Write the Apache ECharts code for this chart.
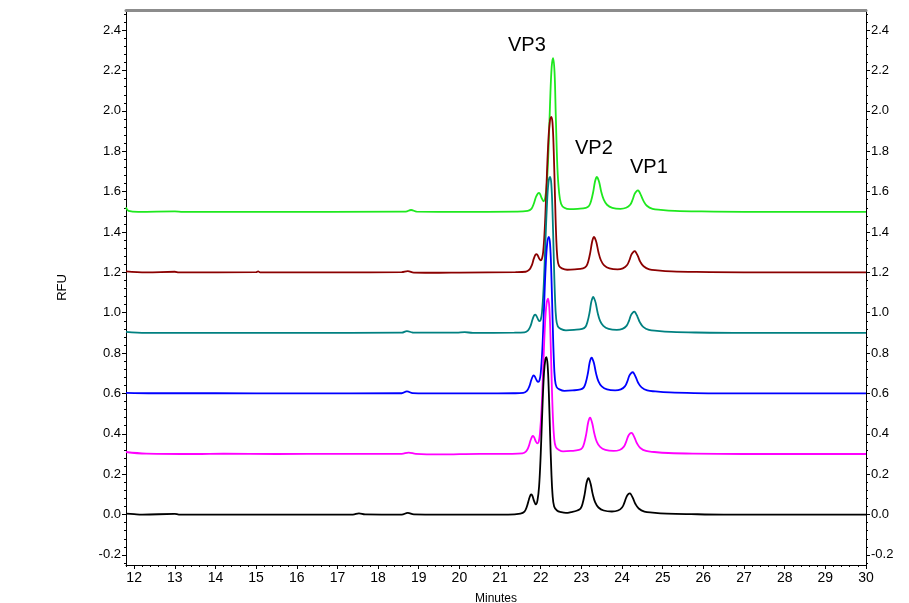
<!DOCTYPE html>
<html>
<head>
<meta charset="utf-8">
<script src="https://cdn.jsdelivr.net/npm/echarts@6/dist/echarts.min.js"></script>
<style>html,body{margin:0;padding:0;background:#fff}#c{width:909px;height:603px}</style>
</head>
<body>
<div id="c"></div>
<script>
// Tick labels
const xTicks = [12,13,14,15,16,17,18,19,20,21,22,23,24,25,26,27,28,29,30];
const yTicks = [-0.2,0,0.2,0.4,0.6,0.8,1.0,1.2,1.4,1.6,1.8,2.0,2.2,2.4];

// Traces [minutes, RFU]
const traceBlack = [[11.8,0.005],[12.0,0.002],[12.2,0.0],[13.0,0.003],[13.1,0.0],[15.0,0.0],[17.38,0.0],[17.53,0.006],[17.68,0.001],[18.58,0.0],[18.73,0.008],[18.88,0.001],[19.5,0.0],[21.2,0.0],[21.5,0.005],[21.6,0.015],[21.66,0.04],[21.71,0.075],[21.75,0.097],[21.77,0.1],[21.8,0.09],[21.84,0.065],[21.88,0.05],[21.92,0.07],[21.96,0.14],[22.0,0.3],[22.04,0.52],[22.08,0.7],[22.115,0.77],[22.14,0.78],[22.17,0.74],[22.2,0.6],[22.23,0.4],[22.26,0.22],[22.29,0.1],[22.33,0.04],[22.4,0.02],[22.5,0.012],[22.62,0.008],[22.75,0.012],[22.9,0.02],[22.98,0.03],[23.03,0.055],[23.08,0.1],[23.12,0.15],[23.15,0.173],[23.17,0.18],[23.19,0.176],[23.23,0.15],[23.28,0.1],[23.34,0.06],[23.42,0.035],[23.55,0.02],[23.75,0.015],[23.9,0.02],[24.0,0.035],[24.06,0.06],[24.11,0.088],[24.16,0.102],[24.19,0.105],[24.22,0.1],[24.27,0.08],[24.33,0.052],[24.41,0.03],[24.55,0.015],[24.75,0.01],[25.1,0.005],[25.7,0.002],[26.5,0.0],[30.0,0.0]];
const traceMagenta = [[11.8,0.31],[12.3,0.302],[13.5,0.3],[14.2,0.302],[15.5,0.3],[17.0,0.301],[18.58,0.301],[18.75,0.307],[18.93,0.301],[19.5,0.298],[20.5,0.301],[21.3,0.301],[21.55,0.303],[21.64,0.313],[21.7,0.335],[21.75,0.368],[21.79,0.387],[21.81,0.39],[21.84,0.382],[21.88,0.362],[21.92,0.353],[21.95,0.36],[21.98,0.4],[22.02,0.52],[22.06,0.72],[22.1,0.92],[22.14,1.04],[22.18,1.07],[22.21,1.03],[22.24,0.88],[22.27,0.66],[22.3,0.48],[22.33,0.38],[22.37,0.335],[22.45,0.32],[22.55,0.313],[22.74,0.315],[22.94,0.32],[23.02,0.33],[23.07,0.355],[23.12,0.4],[23.16,0.45],[23.19,0.473],[23.21,0.48],[23.23,0.476],[23.27,0.45],[23.32,0.4],[23.38,0.36],[23.46,0.335],[23.59,0.32],[23.79,0.315],[23.94,0.32],[24.04,0.335],[24.1,0.36],[24.15,0.388],[24.2,0.402],[24.23,0.405],[24.26,0.4],[24.31,0.38],[24.37,0.352],[24.45,0.33],[24.59,0.315],[24.79,0.31],[25.14,0.305],[25.74,0.302],[27,0.3],[30,0.3]];
const traceBlue = [[11.8,0.603],[12.5,0.601],[14,0.601],[16,0.6],[18.58,0.601],[18.71,0.61],[18.85,0.602],[19.5,0.6],[20.5,0.6],[21.33,0.601],[21.57,0.603],[21.66,0.613],[21.72,0.635],[21.77,0.668],[21.81,0.687],[21.83,0.69],[21.86,0.682],[21.9,0.665],[21.94,0.657],[21.97,0.665],[22.0,0.7],[22.04,0.82],[22.08,1.02],[22.12,1.22],[22.16,1.345],[22.2,1.376],[22.23,1.34],[22.26,1.2],[22.29,0.98],[22.32,0.78],[22.35,0.67],[22.39,0.632],[22.46,0.62],[22.58,0.613],[22.78,0.615],[22.98,0.62],[23.06,0.63],[23.11,0.655],[23.16,0.7],[23.2,0.75],[23.23,0.772],[23.25,0.777],[23.27,0.773],[23.31,0.75],[23.36,0.7],[23.42,0.66],[23.5,0.635],[23.63,0.62],[23.83,0.615],[23.97,0.62],[24.07,0.635],[24.13,0.66],[24.18,0.688],[24.23,0.702],[24.26,0.705],[24.29,0.7],[24.34,0.68],[24.4,0.652],[24.48,0.63],[24.62,0.615],[24.82,0.61],[25.17,0.605],[25.77,0.602],[27,0.6],[30,0.6]];
const traceTeal = [[11.8,0.905],[12.3,0.9],[14,0.9],[16,0.9],[18.58,0.901],[18.71,0.909],[18.85,0.902],[19.93,0.901],[20.13,0.904],[20.33,0.9],[21.35,0.901],[21.6,0.903],[21.69,0.913],[21.75,0.935],[21.8,0.968],[21.84,0.987],[21.87,0.99],[21.9,0.982],[21.94,0.965],[21.97,0.958],[22.0,0.965],[22.03,1.0],[22.07,1.12],[22.11,1.32],[22.15,1.52],[22.19,1.645],[22.23,1.673],[22.26,1.64],[22.29,1.5],[22.32,1.28],[22.35,1.08],[22.38,0.97],[22.42,0.932],[22.49,0.92],[22.62,0.913],[22.82,0.915],[23.02,0.92],[23.1,0.93],[23.15,0.955],[23.2,1.0],[23.24,1.05],[23.27,1.072],[23.29,1.078],[23.31,1.073],[23.35,1.05],[23.4,1.0],[23.46,0.96],[23.54,0.935],[23.67,0.92],[23.87,0.915],[24.01,0.92],[24.11,0.935],[24.17,0.96],[24.22,0.988],[24.27,1.002],[24.3,1.005],[24.33,1.0],[24.38,0.98],[24.44,0.952],[24.52,0.93],[24.66,0.915],[24.86,0.91],[25.21,0.905],[25.81,0.902],[27,0.9],[30,0.9]];
const traceRed = [[11.8,1.205],[12.3,1.2],[13,1.203],[13.1,1.2],[15,1.201],[15.05,1.205],[15.1,1.2],[17,1.2],[18.58,1.201],[18.73,1.206],[18.88,1.199],[19.5,1.198],[20.0,1.199],[21.38,1.201],[21.63,1.203],[21.72,1.213],[21.78,1.235],[21.83,1.268],[21.87,1.287],[21.9,1.29],[21.93,1.282],[21.97,1.266],[22.0,1.26],[22.03,1.268],[22.06,1.3],[22.1,1.42],[22.14,1.62],[22.18,1.82],[22.22,1.94],[22.26,1.97],[22.29,1.94],[22.32,1.8],[22.35,1.58],[22.38,1.38],[22.41,1.27],[22.45,1.232],[22.52,1.22],[22.65,1.213],[22.84,1.215],[23.04,1.22],[23.12,1.23],[23.17,1.255],[23.22,1.3],[23.26,1.348],[23.29,1.37],[23.31,1.376],[23.33,1.371],[23.37,1.348],[23.42,1.3],[23.48,1.26],[23.56,1.235],[23.69,1.22],[23.89,1.215],[24.02,1.22],[24.12,1.235],[24.18,1.26],[24.23,1.288],[24.28,1.302],[24.31,1.305],[24.34,1.3],[24.39,1.28],[24.45,1.252],[24.53,1.23],[24.67,1.215],[24.87,1.21],[25.22,1.205],[25.82,1.202],[27,1.2],[30,1.2]];
const traceGreen = [[11.8,1.522],[11.86,1.505],[12.1,1.5],[13.0,1.502],[13.2,1.5],[15,1.5],[18.68,1.501],[18.81,1.509],[18.95,1.501],[20,1.5],[21.4,1.501],[21.68,1.505],[21.77,1.515],[21.83,1.54],[21.88,1.572],[21.93,1.591],[21.96,1.594],[21.99,1.585],[22.03,1.565],[22.07,1.552],[22.11,1.57],[22.15,1.64],[22.19,1.8],[22.23,2.04],[22.27,2.22],[22.305,2.262],[22.34,2.19],[22.37,1.98],[22.41,1.72],[22.45,1.6],[22.5,1.54],[22.58,1.52],[22.72,1.513],[22.91,1.515],[23.11,1.52],[23.19,1.53],[23.24,1.555],[23.29,1.598],[23.33,1.645],[23.36,1.667],[23.38,1.673],[23.4,1.668],[23.44,1.645],[23.49,1.598],[23.55,1.56],[23.63,1.535],[23.76,1.52],[23.96,1.515],[24.1,1.52],[24.2,1.535],[24.26,1.56],[24.31,1.589],[24.36,1.603],[24.39,1.606],[24.42,1.601],[24.47,1.58],[24.53,1.553],[24.61,1.53],[24.75,1.515],[24.95,1.51],[25.3,1.505],[25.9,1.502],[27,1.5],[30,1.5]];

const peakLabels = ['VP3','VP2','VP1'];

// minor tick positions (axis decoration)
const xMinor = []; for (let i = 59; i <= 150; i++) { const v = +(i*0.2).toFixed(2); if (v >= 11.8 && v <= 30) xMinor.push(v); }
const yMinor = []; for (let i = -6; i <= 62; i++) { const v = +(i*0.04).toFixed(2); if (v >= -0.25 && v <= 2.5) yMinor.push(v); }

const FONT = 'Liberation Sans';
const chart = echarts.init(document.getElementById('c'), null, {renderer: 'canvas'});
const grid = {left: 126, right: 43, top: 10, bottom: 38, show: false, containLabel: false, outerBoundsMode: 'none'};
const XMIN = 11.8, XMAX = 30, YMIN = -0.25, YMAX = 2.5;
function yAx(pos, labels, minor) {
  return {
    type: 'value', position: pos, min: YMIN, max: YMAX,
    axisLine: {show: !minor, lineStyle: {color: '#000', width: 1}},
    axisTick: {show: true, inside: false, length: minor ? 2 : 4, lineStyle: {color: '#000'}, customValues: minor ? yMinor : yTicks},
    axisLabel: {show: labels, customValues: yTicks, formatter: v => v.toFixed(1), color: '#000', fontFamily: FONT, fontSize: 13, margin: 5},
    splitLine: {show: false}
  };
}
const mk = (name, data, color) => ({
  name, type: 'line', data, showSymbol: false, smooth: 0.4,
  lineStyle: {color, width: 1.8}, itemStyle: {color}, z: 3, silent: true, animation: false
});
chart.setOption({
  animation: false,
  grid,
  xAxis: [
    {type: 'value', min: XMIN, max: XMAX, position: 'bottom',
     name: 'Minutes', nameLocation: 'middle', nameGap: 28,
     nameTextStyle: {color: '#000', fontFamily: FONT, fontSize: 12},
     axisLine: {show: true, onZero: false, lineStyle: {color: '#000', width: 1}},
     axisTick: {show: true, length: 4, lineStyle: {color: '#000'}, customValues: xTicks},
     axisLabel: {customValues: xTicks, color: '#000', fontFamily: FONT, fontSize: 14, margin: 6},
     splitLine: {show: false}},
    {type: 'value', min: XMIN, max: XMAX, position: 'bottom',
     axisLine: {show: false, onZero: false},
     axisTick: {show: true, length: 2, lineStyle: {color: '#000'}, customValues: xMinor},
     axisLabel: {show: false, customValues: xTicks}, splitLine: {show: false}},
    {type: 'value', min: XMIN, max: XMAX, position: 'top',
     axisLine: {show: true, onZero: false, lineStyle: {color: '#8c8c8c', width: 3}},
     axisTick: {show: false}, axisLabel: {show: false}, splitLine: {show: false}}
  ],
  yAxis: [
    Object.assign(yAx('left', true, false), {name: 'RFU', nameLocation: 'middle', nameGap: 57, nameRotate: 90,
      nameTextStyle: {color: '#000', fontFamily: FONT, fontSize: 13}}),
    yAx('right', true, false),
    yAx('left', false, true),
    yAx('right', false, true)
  ],
  series: [
    mk('S6', traceGreen, '#1ee81e'),
    mk('S5', traceRed, '#8b0000'),
    mk('S4', traceTeal, '#008080'),
    mk('S3', traceBlue, '#0000ff'),
    mk('S2', traceMagenta, '#ff00ff'),
    mk('S1', traceBlack, '#000000')
  ],
  graphic: [
    {type: 'text', left: 508, top: 35, style: {text: peakLabels[0], font: '20px ' + FONT, fill: '#000'}},
    {type: 'text', left: 575, top: 138, style: {text: peakLabels[1], font: '20px ' + FONT, fill: '#000'}},
    {type: 'text', left: 630, top: 157, style: {text: peakLabels[2], font: '20px ' + FONT, fill: '#000'}}
  ]
});
</script>
</body>
</html>
